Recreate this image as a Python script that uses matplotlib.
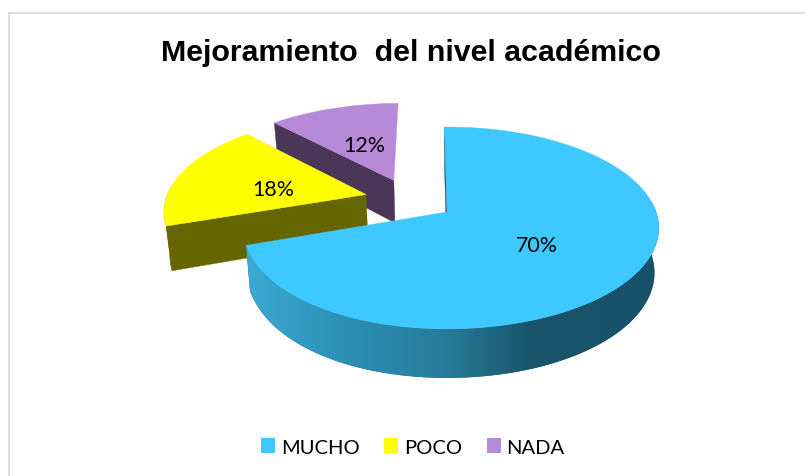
import numpy as np
import matplotlib
matplotlib.use("Agg")
import matplotlib.pyplot as plt
from matplotlib.patches import Polygon, Patch
from matplotlib.colors import to_rgb

TITLE = "Mejoramiento  del nivel académico"
categories = ["MUCHO", "POCO", "NADA"]
values = [70, 18, 12]
labels = ["70%", "18%", "12%"]
top_colors = ["#3DC9FF", "#FFFF00", "#B78AD8"]
side_colors = ["#18526A", "#666600", "#4A3758"]

# projection parameters (pixel space)
CX, CY, A, B, P = 447, 213, 209, 98.4, 0.158
START = -0.8
EXPLODE = 0.225
SHRINK = 0.98

fig = plt.figure(figsize=(8.05, 4.77), dpi=100)
ax = fig.add_axes([0, 0, 1, 1])
ax.set_xlim(0, 805)
ax.set_ylim(477, 0)
ax.axis("off")


def project(x, y, bottom=False):
    x, y = np.asarray(x, float), np.asarray(y, float)
    s = 1 / (1 + P * y)
    X = A * x * s
    Y = -B * y * s
    # slight compression of the near left side
    X = X + 7.5 * np.clip((Y + 90) / 104, 0, 1) * np.clip(-X / 200, 0, 1) ** 2
    if bottom:
        return CX + X * SHRINK, CY + Y + 44 - 5 * y
    return CX + X, CY + Y


def unit(deg):
    r = np.radians(deg)
    return np.sin(r), np.cos(r)


total = sum(values)
angles = [START]
for v in values:
    angles.append(angles[-1] + 360 * v / total)
mids = [(angles[i] + angles[i + 1]) / 2 for i in range(3)]
d0 = np.array(unit(mids[0]))
offsets = [EXPLODE * (np.array(unit(m)) - d0) for m in mids]

ramp_x = [250, 330, 450, 530, 660]
ramp_c = np.array([to_rgb(c) for c in ["#3BA9D4", "#2E93B8", "#267A98", "#19546A", "#18526A"]])
grad_x = np.arange(230, 670)
gradient = np.stack([np.interp(grad_x, ramp_x, ramp_c[:, k]) for k in range(3)], axis=-1)[None, :, :]

for i in [2, 1, 0]:
    o = offsets[i]
    z = 2 + 3 * (2 - i)
    th = np.linspace(angles[i], angles[i + 1], 240)
    ux, uy = unit(th)
    rx, ry = ux + o[0], uy + o[1]
    tx, ty = project(rx, ry)
    bx, by = project(rx, ry, True)
    ax0, ay0 = project(o[0], o[1])
    bx0, by0 = project(o[0], o[1], True)
    # visible cut face
    ax.add_patch(Polygon([(ax0, ay0), (tx[0], ty[0]), (bx[0], by[0]), (bx0, by0)],
                         closed=True, fc=side_colors[i], ec=side_colors[i], lw=0.3, zorder=z))
    # outer rim
    m = uy <= 0.1
    rim = Polygon(np.r_[np.c_[tx[m], ty[m]], np.c_[bx[m], by[m]][::-1]], closed=True,
                  fc=side_colors[i], ec="none", zorder=z + 1)
    ax.add_patch(rim)
    if i == 0:
        im = ax.imshow(gradient, extent=(grad_x[0], grad_x[-1], 400, 200), aspect="auto",
                       interpolation="bilinear", zorder=z + 1.5)
        im.set_clip_path(rim)
    ax.add_patch(Polygon(np.r_[[[ax0, ay0]], np.c_[tx, ty]], closed=True,
                         fc=top_colors[i], ec=top_colors[i], lw=0.3, zorder=z + 2))

ax.set_xlim(0, 805)
ax.set_ylim(477, 0)

label_pos = [(537, 246.5), (273, 190), (364, 146.5)]
for (lx, ly), t in zip(label_pos, labels):
    ax.text(lx, ly, t, family="Lato", fontsize=15.4, color="#000000", ha="center", va="center", zorder=20)

ax.text(410.5, 53, TITLE, family="Liberation Sans", fontweight="bold", fontsize=21.9,
        color="#000000", ha="center", va="center", zorder=20)

# frame remains on top and left only
ax.plot([8.5, 8.5, 805], [477, 13.5, 13.5], color="#DEDEDE", lw=1.4, solid_joinstyle="miter")

handles = [Patch(fc=c, ec="none") for c in top_colors]
ax.legend(handles, categories, ncol=3, frameon=False, loc="center",
          bbox_to_anchor=(413 / 805, 1 - 448 / 477),
          prop={"family": "Lato", "size": 14.5}, handlelength=0.7, handleheight=0.7,
          handletextpad=0.28, columnspacing=1.22, labelcolor="#000000")

fig.savefig("out.png", dpi=100)
